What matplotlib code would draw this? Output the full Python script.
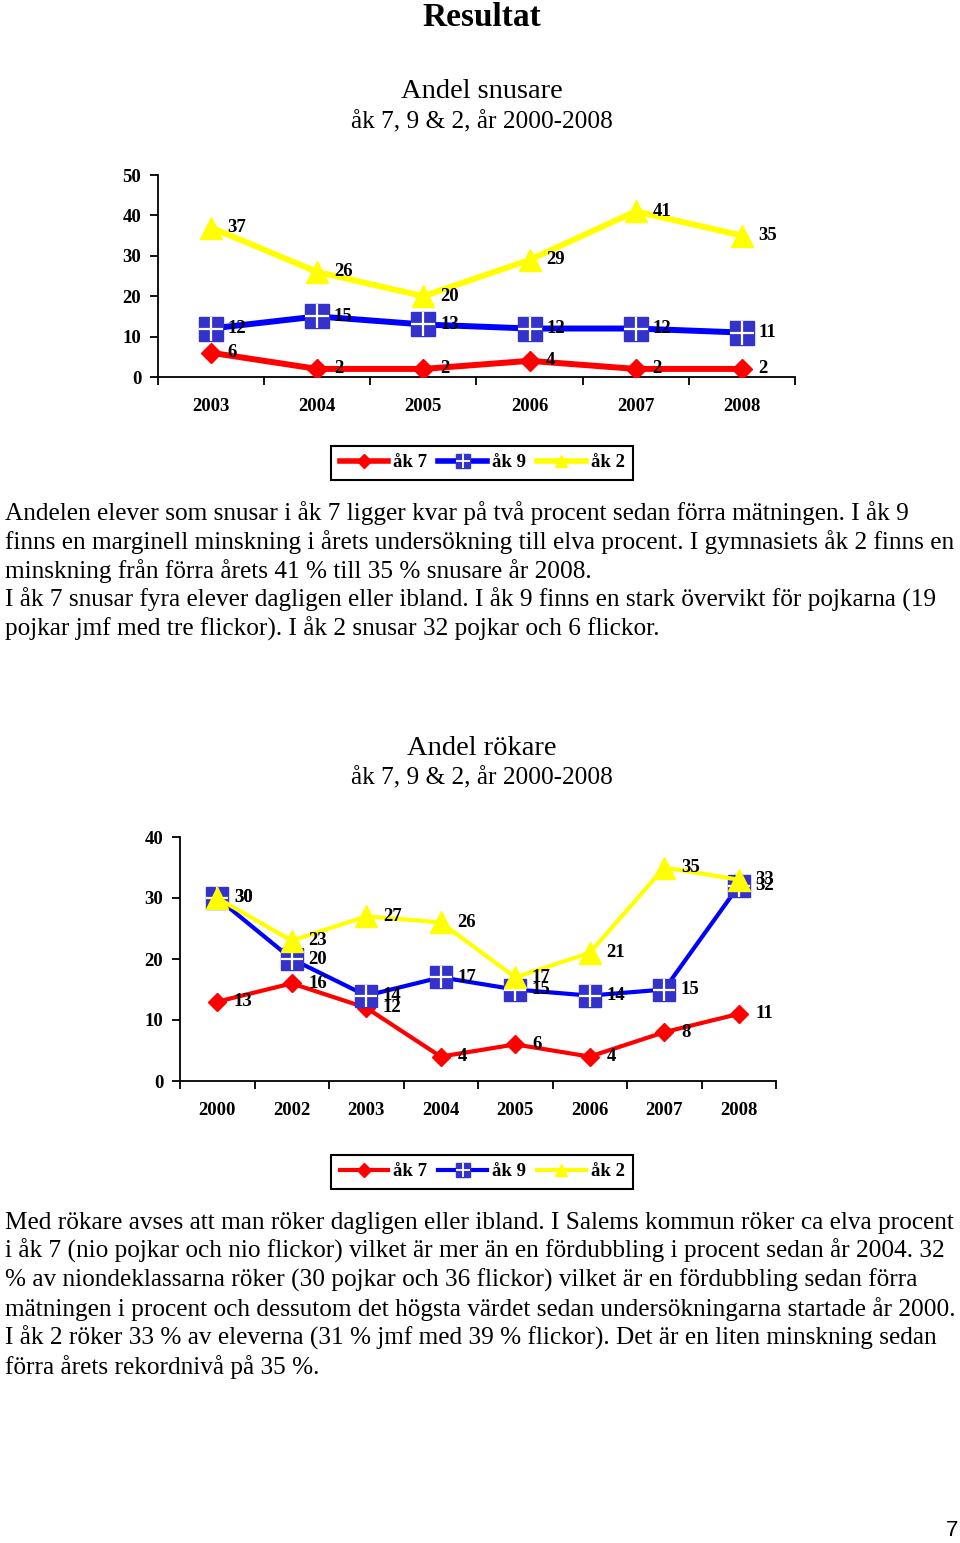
import matplotlib
matplotlib.use('Agg')
import matplotlib.pyplot as plt
from matplotlib.lines import Line2D

# --- data ---
snus_years = ['2003', '2004', '2005', '2006', '2007', '2008']
snus_ak7 = [6, 2, 2, 4, 2, 2]
snus_ak9 = [12, 15, 13, 12, 12, 11]
snus_ak2 = [37, 26, 20, 29, 41, 35]

rok_years = ['2000', '2002', '2003', '2004', '2005', '2006', '2007', '2008']
rok_ak7 = [13, 16, 12, 4, 6, 4, 8, 11]
rok_ak9 = [30, 20, 14, 17, 15, 14, 15, 32]
rok_ak2 = [30, 23, 27, 26, 17, 21, 35, 33]

series_names = ['åk 7', 'åk 9', 'åk 2']

text1 = [
    'Andelen elever som snusar i åk 7 ligger kvar på två procent sedan förra mätningen. I åk 9',
    'finns en marginell minskning i årets undersökning till elva procent. I gymnasiets åk 2 finns en',
    'minskning från förra årets 41 % till 35 % snusare år 2008.',
    'I åk 7 snusar fyra elever dagligen eller ibland. I åk 9 finns en stark övervikt för pojkarna (19',
    'pojkar jmf med tre flickor). I åk 2 snusar 32 pojkar och 6 flickor.',
]
text2 = [
    'Med rökare avses att man röker dagligen eller ibland. I Salems kommun röker ca elva procent',
    'i åk 7 (nio pojkar och nio flickor) vilket är mer än en fördubbling i procent sedan år 2004. 32',
    '% av niondeklassarna röker (30 pojkar och 36 flickor) vilket är en fördubbling sedan förra',
    'mätningen i procent och dessutom det högsta värdet sedan undersökningarna startade år 2000.',
    'I åk 2 röker 33 % av eleverna (31 % jmf med 39 % flickor). Det är en liten minskning sedan',
    'förra årets rekordnivå på 35 %.',
]

plt.rcParams['font.family'] = ['Liberation Serif', 'DejaVu Serif']

RED = '#FF0000'
BLUE = '#0000FF'
SQ = '#3333CC'
YEL = '#FFFF00'

W, H = 960, 1543
fig = plt.figure(figsize=(9.6, 15.43), dpi=100)


def fx(px):
    return px / W


def fy(py):
    return 1 - py / H


def draw_chart(ax, years, a7, a9, a2, ymax, lw, ms):
    x = list(range(len(years)))
    ax.plot(x, a7, color=RED, lw=lw, marker='D', ms=ms[0], mfc=RED, mec=RED, zorder=3)
    ax.plot(x, a9, color=BLUE, lw=lw, marker='s', ms=ms[1], mfc=SQ, mec=SQ, zorder=4)
    ax.plot(x, a9, ls='none', marker='+', ms=ms[1], mec='white', mew=1.6, zorder=5)
    ax.plot(x, a2, color=YEL, lw=lw, marker='^', ms=ms[2], mfc=YEL, mec=YEL, zorder=6)
    for vals in (a7, a9, a2):
        for i, v in enumerate(vals):
            ax.annotate(str(v), (i, v), xytext=(12, 0), textcoords='offset points',
                        ha='left', va='center', fontsize=13.5, fontweight='bold', zorder=7,
                        annotation_clip=False)
    ax.set_xlim(-0.5, len(years) - 0.5)
    ax.set_ylim(0, ymax)
    ax.set_yticks(range(0, ymax + 1, 10))
    ax.set_xticks(x)
    ax.set_xticklabels(years)
    ax.set_xticks([i - 0.5 for i in range(len(years) + 1)], minor=True)
    ax.tick_params(axis='x', which='major', length=0, pad=15, labelsize=13.5)
    ax.tick_params(axis='x', which='minor', length=6, width=1.3, direction='out')
    ax.tick_params(axis='y', length=6, width=1.3, direction='out', pad=6, labelsize=13.5)
    for lab in ax.get_xticklabels() + ax.get_yticklabels():
        lab.set_fontweight('bold')
    ax.spines['top'].set_visible(False)
    ax.spines['right'].set_visible(False)
    ax.spines['left'].set_linewidth(1.3)
    ax.spines['bottom'].set_linewidth(1.3)
    ax.patch.set_alpha(0)


def add_legend(ax, lw, ycenter):
    h7 = Line2D([], [], color=RED, lw=lw, marker='D', ms=7, mfc=RED, mec=RED)
    h9a = Line2D([], [], color=BLUE, lw=lw, marker='s', ms=10, mfc=SQ, mec=SQ)
    h9b = Line2D([], [], ls='none', marker='+', ms=10, mec='white', mew=1.3)
    h2 = Line2D([], [], color=YEL, lw=lw, marker='^', ms=9, mfc=YEL, mec=YEL)
    leg = ax.legend([h7, (h9a, h9b), h2], series_names, ncol=3, loc='center',
                    bbox_to_anchor=(fx(482), fy(ycenter)), bbox_transform=fig.transFigure,
                    frameon=True, fancybox=False, edgecolor='black', framealpha=1,
                    handlelength=2.6, handletextpad=0.25, columnspacing=0.6,
                    borderpad=0.45, prop={'weight': 'bold', 'size': 13.5})
    leg.get_frame().set_linewidth(1.5)


# --- top chart: snus ---
fig.text(fx(482), fy(18), 'Resultat', ha='center', va='center', fontsize=24, fontweight='bold')
fig.text(fx(482), fy(92), 'Andel snusare', ha='center', va='center', fontsize=20.5)
fig.text(fx(482), fy(122), 'åk 7, 9 & 2, år 2000-2008', ha='center', va='center', fontsize=18.2)

ax1 = fig.add_axes([fx(158), fy(377), fx(795) - fx(158), fy(175) - fy(377)])
draw_chart(ax1, snus_years, snus_ak7, snus_ak9, snus_ak2, 50, 4.3, (10, 17, 16))
add_legend(ax1, 4.0, 462.5)

for i, line in enumerate(text1):
    fig.text(fx(5), fy(520 + 29 * i), line, ha='left', va='baseline', fontsize=18.2)

# --- bottom chart: rök ---
fig.text(fx(482), fy(748), 'Andel rökare', ha='center', va='center', fontsize=20.5)
fig.text(fx(482), fy(778), 'åk 7, 9 & 2, år 2000-2008', ha='center', va='center', fontsize=18.2)

ax2 = fig.add_axes([fx(180), fy(1081), fx(776) - fx(180), fy(837) - fy(1081)])
draw_chart(ax2, rok_years, rok_ak7, rok_ak9, rok_ak2, 40, 3.0, (9, 16, 16))
add_legend(ax2, 3.0, 1171.5)

for i, line in enumerate(text2):
    fig.text(fx(5), fy(1229 + 29 * i), line, ha='left', va='baseline', fontsize=18.2)

fig.text(fx(958), fy(1531), '7', ha='right', va='center', fontsize=16,
         family=['Liberation Sans', 'DejaVu Sans'])

fig.savefig('out.png', dpi=100)
